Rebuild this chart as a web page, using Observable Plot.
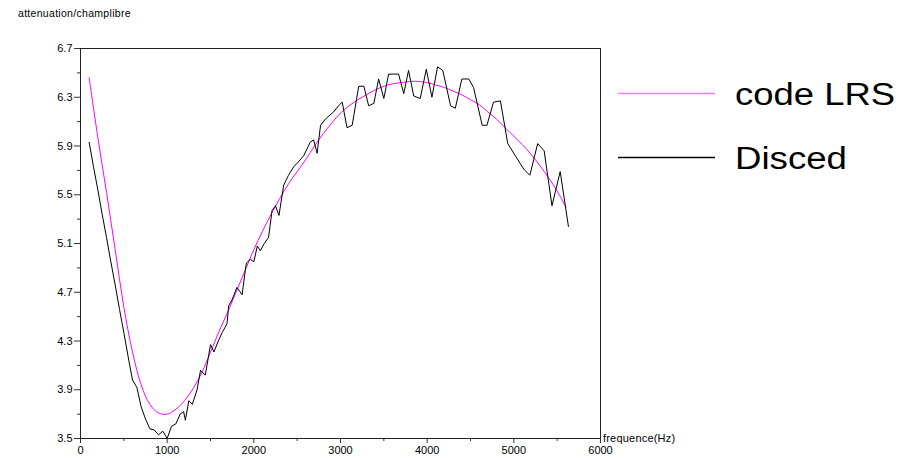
<!DOCTYPE html>
<html>
<head>
<meta charset="utf-8">
<script src="https://cdn.jsdelivr.net/npm/d3@7"></script>
<script src="https://cdn.jsdelivr.net/npm/@observablehq/plot@0.6"></script>
<style>
  html, body { margin: 0; padding: 0; background: #fff; }
  #chart { position: relative; width: 900px; height: 460px; }
</style>
</head>
<body>
<div id="chart"></div>
<script>
// ---- data ----
const seriesNames = ["code LRS", "Disced"];
const seriesColors = ["#ff00ff", "#000000"];

const lrsFreq = [100,200,300,400,500,600,700,800,900,1000,1100,1200,1300,1400,1500,1600,1700,1800,1900,2000,
  2100,2200,2300,2400,2500,2600,2700,2800,2900,3000,3100,3200,3300,3400,3500,3600,3700,3800,3900,4000,
  4100,4200,4300,4400,4500,4600,4700,4800,4900,5000,5100,5200,5300,5400,5500,5600];
const lrsVal = [6.46,5.97,5.52,5.05,4.58,4.21,3.94,3.78,3.71,3.70,3.74,3.81,3.91,4.04,4.21,4.38,4.54,4.71,4.88,5.05,
  5.20,5.34,5.47,5.59,5.69,5.79,5.90,6.00,6.09,6.17,6.23,6.28,6.32,6.36,6.39,6.41,6.42,6.43,6.43,6.42,
  6.40,6.38,6.35,6.32,6.28,6.24,6.18,6.12,6.05,5.98,5.91,5.83,5.74,5.64,5.53,5.40];

const discedFreq = [100,150,200,250,300,350,400,450,500,550,600,650,700,750,800,850,900,950,1000,1050,
  1100,1150,1190,1210,1250,1290,1345,1385,1440,1500,1540,1590,1635,1690,1710,1750,1805,1865,1905,1915,
  1960,2000,2040,2075,2120,2170,2210,2250,2290,2345,2400,2460,2515,2575,2650,2690,2730,2770,2825,2920,
  2990,3020,3075,3135,3210,3270,3325,3385,3440,3500,3555,3615,3670,3730,3785,3845,3920,3990,4055,4120,
  4180,4270,4325,4400,4480,4535,4635,4690,4765,4845,4930,5035,5115,5185,5275,5350,5440,5535,5630];
const discedVal = [5.93,5.73,5.54,5.34,5.15,4.95,4.76,4.56,4.37,4.17,3.98,3.92,3.76,3.66,3.58,3.57,3.53,3.56,3.50,3.60,
  3.62,3.70,3.72,3.65,3.81,3.78,3.90,4.06,4.02,4.27,4.21,4.30,4.37,4.44,4.59,4.64,4.74,4.68,4.90,4.94,
  4.97,4.95,5.08,5.04,5.10,5.15,5.37,5.41,5.33,5.58,5.66,5.73,5.77,5.82,5.93,5.95,5.84,6.07,6.12,6.18,
  6.24,6.26,6.05,6.07,6.39,6.39,6.23,6.25,6.45,6.29,6.49,6.49,6.49,6.33,6.52,6.31,6.29,6.53,6.30,6.55,
  6.52,6.23,6.21,6.45,6.45,6.38,6.07,6.07,6.26,6.27,5.92,5.80,5.71,5.66,5.92,5.86,5.41,5.69,5.24];

const xMajorTicks = [0,1000,2000,3000,4000,5000,6000];
const xMinorTicks = [500,1500,2500,3500,4500,5500];
const yMajorTicks = [3.5,3.9,4.3,4.7,5.1,5.5,5.9,6.3,6.7];
const yMinorTicks = [3.7,4.1,4.5,4.9,5.3,5.7,6.1,6.5];
const yTitle = "attenuation/champlibre";
const xTitle = "frequence(Hz)";

// ---- build tables ----
const lrs = lrsFreq.map((f, i) => ({f, v: lrsVal[i]}));
const disced = discedFreq.map((f, i) => ({f, v: discedVal[i]}));

const chart = Plot.plot({
  width: 900,
  height: 460,
  marginLeft: 80,
  marginRight: 300,
  marginTop: 48,
  marginBottom: 22,
  style: {fontFamily: "'Liberation Sans', Arial, sans-serif", fontSize: "11px", background: "#fff", color: "#000"},
  x: {domain: [0, 6000], label: null},
  y: {domain: [3.5, 6.7], label: null},
  marks: [
    Plot.axisX({ticks: xMinorTicks, tickSize: 3, tickFormat: () => "", label: null, stroke: "#333"}),
    Plot.axisX({ticks: xMajorTicks, tickSize: 5, tickPadding: 3, tickFormat: d => String(d), label: null, stroke: "#333"}),
    Plot.axisY({ticks: yMinorTicks, tickSize: 3, tickFormat: () => "", label: null, stroke: "#333"}),
    Plot.axisY({ticks: yMajorTicks, tickSize: 6, tickPadding: 2, tickFormat: d => d.toFixed(1), label: null, stroke: "#333"}),
    Plot.frame({stroke: "#222"}),
    Plot.line(lrs, {x: "f", y: "v", stroke: seriesColors[0], strokeWidth: 1, curve: "catmull-rom"}),
    Plot.line(disced, {x: "f", y: "v", stroke: seriesColors[1], strokeWidth: 1})
  ]
});

document.getElementById("chart").appendChild(chart);

// titles and legend as real text inside the same svg
const svg = d3.select(chart);
svg.append("text")
  .attr("x", 18).attr("y", 17)
  .attr("text-anchor", "start")
  .attr("font-size", 10.5).attr("letter-spacing", 0.3)
  .attr("font-family", "'Liberation Sans', Arial, sans-serif")
  .text(yTitle);
svg.append("text")
  .attr("x", 603).attr("y", 442)
  .attr("text-anchor", "start")
  .attr("font-size", 11).attr("letter-spacing", 0.2)
  .attr("font-family", "'Liberation Sans', Arial, sans-serif")
  .text(xTitle);

const legendY = [93.5, 157.5];
const legendW = [160, 112];
const legendStroke = ["#ff77ff", "#000000"];
seriesNames.forEach((name, i) => {
  svg.append("line")
    .attr("x1", 618).attr("x2", 715)
    .attr("y1", legendY[i]).attr("y2", legendY[i])
    .attr("stroke", legendStroke[i]).attr("stroke-width", 1.5);
  svg.append("text")
    .attr("x", 735).attr("y", legendY[i] + 11.5)
    .attr("text-anchor", "start")
    .attr("font-size", 31)
    .attr("font-family", "'Liberation Sans', Arial, sans-serif")
    .attr("textLength", legendW[i]).attr("lengthAdjust", "spacingAndGlyphs")
    .text(name);
});
</script>
</body>
</html>
